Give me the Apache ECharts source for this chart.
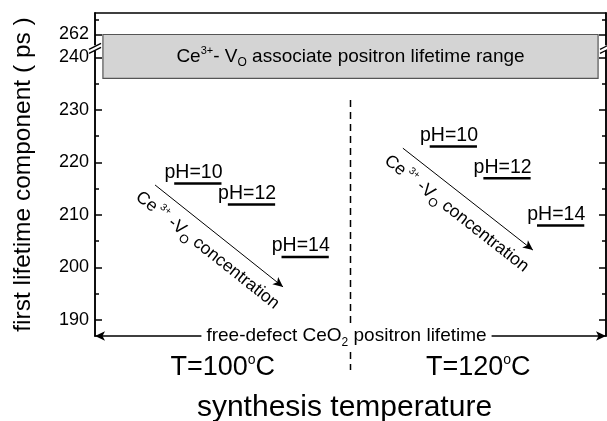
<!DOCTYPE html>
<html>
<head>
    <meta charset="utf-8">
    <title>first lifetime component</title>
    <script src="https://cdn.jsdelivr.net/npm/echarts@6/dist/echarts.min.js"></script>
    <style>
        html, body { margin: 0; padding: 0; background: #fff; }
        #main { width: 607px; height: 421px; }
    </style>
</head>
<body>
    <div id="main"></div>
    <script type="text/javascript">
        // data
        var temperatures = ['T=100', 'T=120'];
        var phLabels = ['pH=10', 'pH=12', 'pH=14'];
        var lifetime100 = [216, 212, 202];
        var lifetime120 = [223, 217, 208];
        var rangeBox = [236, 262];           // Ce3+-Vo associate range
        var majorTicks = [190, 200, 210, 220, 230, 240, 262];
        var minorTicks = [195, 205, 215, 225, 235, 265];

        // broken y axis: values above the break are pulled down
        function toAxis(v) { return v > 250 ? 244.34 + (v - 262) * 0.92 : v; }
        function fromAxis(a) { return a > 243 ? 262 + (a - 244.34) / 0.92 : a; }

        var FONT = '"Liberation Sans", Arial, sans-serif';
        var yMin = 186.95, yMax = 248.43;

        var myChart = echarts.init(document.getElementById('main'));

        function yAxisDef(pos, ticks, len, labels) {
            return {
                type: 'value', position: pos, min: yMin, max: yMax,
                splitLine: { show: false },
                axisLine: { show: true, lineStyle: { color: '#000', width: 1.5 } },
                axisTick: { show: true, inside: true, length: len, customValues: ticks.map(toAxis),
                    lineStyle: { color: '#000', width: 1.5 } },
                axisLabel: labels ? {
                    show: true, customValues: majorTicks.map(toAxis), margin: 6,
                    color: '#000', fontFamily: FONT, fontSize: 18,
                    formatter: function (v) { return Math.round(fromAxis(v)); }
                } : { show: false },
                name: labels ? 'first lifetime component ( ps )' : '',
                nameLocation: 'middle', nameGap: 59,
                nameTextStyle: { color: '#000', fontFamily: FONT, fontSize: 24.5 }
            };
        }

        function segmentSeries(values, group) {
            return {
                type: 'custom',
                xAxisIndex: 0, yAxisIndex: 0,
                data: values.map(function (v, i) { return [i, v]; }),
                renderItem: function (params, api) {
                    var i = api.value(0);
                    var x0 = group + 0.31 + i * 0.21;
                    var p0 = api.coord([x0, api.value(1)]);
                    var p1 = api.coord([x0 + 0.185, api.value(1)]);
                    return {
                        type: 'group',
                        children: [{
                            type: 'line',
                            shape: { x1: p0[0], y1: p0[1], x2: p1[0], y2: p1[1] },
                            style: { stroke: '#000', lineWidth: 2.5 }
                        }, {
                            type: 'text',
                            style: {
                                text: phLabels[i], x: p1[0] + 1, y: p1[1] - 1,
                                align: 'right', verticalAlign: 'bottom',
                                fill: '#000', font: '19.5px ' + FONT
                            }
                        }]
                    };
                }
            };
        }

        var concLabel = '{n|Ce}{sup| 3+}{n| -V}{sub|O}{n| concentration}';
        var concRich = {
            n: { fontSize: 17.5, fontFamily: FONT, color: '#000' },
            sup: { fontSize: 10, fontFamily: FONT, color: '#000', padding: [0, 0, 12, 0] },
            sub: { fontSize: 12, fontFamily: FONT, color: '#000', padding: [13, 0, 0, 0] }
        };

        function concArrow(a, b) {
            return [{ coord: a }, { coord: b }];
        }

        myChart.setOption({
            animation: false,
            grid: { left: 95, right: 1, top: 13, bottom: 85, outerBoundsMode: 'none', containLabel: false },
            xAxis: [{
                type: 'value', min: 0, max: 2, position: 'bottom',
                splitLine: { show: false },
                axisLine: { show: true, symbol: ['arrow', 'arrow'], symbolSize: [7, 10],
                    lineStyle: { color: '#000', width: 1.5 } },
                axisTick: { show: false },
                axisLabel: {
                    show: true, customValues: [0.5, 1.5], margin: 17,
                    formatter: function (v) {
                        return '{t|' + temperatures[v < 1 ? 0 : 1] + '}{o|o}{t|C}';
                    },
                    rich: {
                        t: { fontSize: 27, fontFamily: FONT, color: '#000' },
                        o: { fontSize: 14, fontFamily: FONT, color: '#000', padding: [0, 0, 15, 0] }
                    }
                },
                name: 'synthesis temperature', nameLocation: 'middle', nameGap: 57,
                nameTextStyle: { color: '#000', fontFamily: FONT, fontSize: 30, padding: [0, 12, 0, 0] }
            }, {
                type: 'value', min: 0, max: 2, position: 'top',
                splitLine: { show: false },
                axisLine: { show: true, lineStyle: { color: '#000', width: 1.5 } },
                axisTick: { show: false }, axisLabel: { show: false }
            }],
            yAxis: [
                yAxisDef('left', majorTicks, 7, true),
                yAxisDef('left', minorTicks, 4, false),
                yAxisDef('right', majorTicks, 7, false),
                yAxisDef('right', minorTicks, 4, false)
            ],
            series: [
                segmentSeries(lifetime100, 0),
                segmentSeries(lifetime120, 1),
                {
                    type: 'line', data: [], xAxisIndex: 0, yAxisIndex: 0,
                    markArea: {
                        silent: true,
                        itemStyle: { color: '#d4d4d4', borderColor: '#555', borderWidth: 1.2 },
                        label: {
                            show: true, position: 'inside',
                            formatter: '{n|Ce}{sup|3+}{n|- V}{sub|O}{n| associate positron lifetime range}',
                            rich: {
                                n: { fontSize: 19, fontFamily: FONT, color: '#000' },
                                sup: { fontSize: 11, fontFamily: FONT, color: '#000', padding: [0, 0, 11, 0] },
                                sub: { fontSize: 12, fontFamily: FONT, color: '#000', padding: [13, 0, 0, 0] }
                            }
                        },
                        data: [[{ coord: [0.031, toAxis(rangeBox[0])] }, { coord: [1.969, toAxis(rangeBox[1])] }]]
                    },
                    markLine: {
                        silent: true, symbol: ['none', 'arrow'], symbolSize: [7, 10],
                        lineStyle: { color: '#000', width: 1, type: 'solid' },
                        label: {
                            show: true, position: 'insideMiddleBottom', distance: 6,
                            formatter: concLabel, rich: concRich
                        },
                        data: [
                            concArrow([0.235, 215.7], [0.736, 196.3]),
                            concArrow([1.205, 222.7], [1.714, 203.3])
                        ]
                    }
                }
            ]
        });

        // decorations placed from the axes
        var xMid = myChart.convertToPixel({ xAxisIndex: 0 }, 1);
        var yBottom = myChart.convertToPixel({ yAxisIndex: 0 }, yMin);
        var yBreak = myChart.convertToPixel({ yAxisIndex: 0 }, 241.7);
        var xl = 95, xr = 606;

        function slashes(x) {
            return [
                { type: 'rect', shape: { x: x - 2, y: yBreak - 3, width: 4, height: 5 }, style: { fill: '#fff' }, z: 100 },
                { type: 'line', shape: { x1: x - 6, y1: yBreak + 1, x2: x + 6, y2: yBreak - 5 },
                    style: { stroke: '#000', lineWidth: 1.3 }, z: 101 },
                { type: 'line', shape: { x1: x - 6, y1: yBreak + 5, x2: x + 6, y2: yBreak - 1 },
                    style: { stroke: '#000', lineWidth: 1.3 }, z: 101 }
            ];
        }

        myChart.setOption({
            graphic: [
                {
                    type: 'line', z: 50,
                    shape: { x1: xMid, y1: 100, x2: xMid, y2: 370 },
                    style: { stroke: '#000', lineWidth: 1.5, lineDash: [7, 5] }
                },
                {
                    type: 'text', z: 60, x: xMid - 4, y: yBottom,
                    style: {
                        text: '{n|free-defect CeO}{sub|2}{n| positron lifetime}',
                        align: 'center', verticalAlign: 'middle',
                        backgroundColor: '#fff', padding: [0, 5],
                        rich: {
                            n: { fontSize: 19, fontFamily: FONT, fill: '#000' },
                            sub: { fontSize: 12, fontFamily: FONT, fill: '#000', padding: [13, 0, 0, 0] }
                        }
                    }
                }
            ].concat(slashes(xl)).concat(slashes(xr))
        });
    </script>
</body>
</html>
